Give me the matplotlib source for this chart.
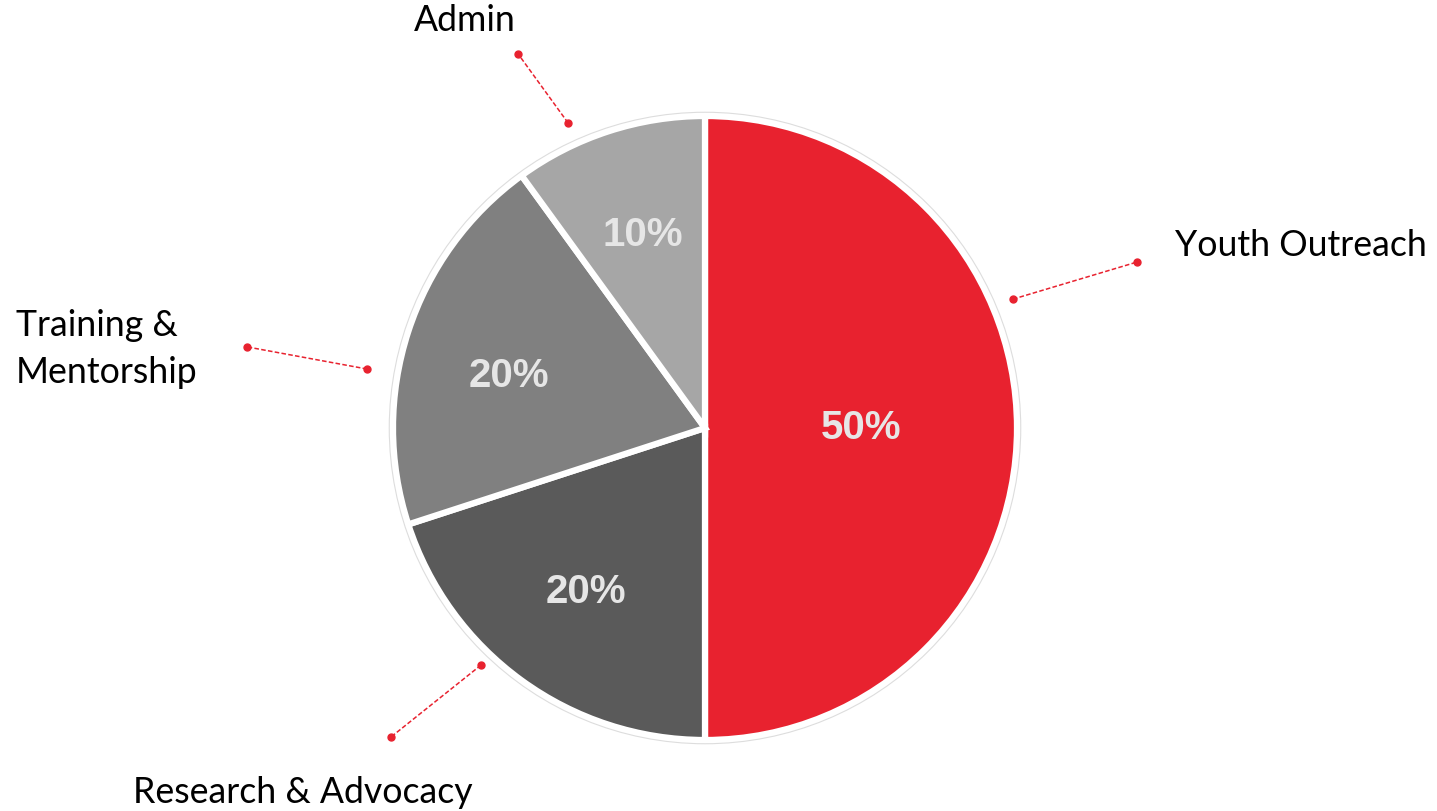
import numpy as np
import matplotlib.pyplot as plt

# Budget split
categories = ["Youth Outreach", "Research & Advocacy", "Training &\nMentorship", "Admin"]
shares = [50, 20, 20, 10]
colors = ["#E8222F", "#5A5A5A", "#808080", "#A6A6A6"]

# leader line ends (start on pie, end near label) and label anchors, in pie radius units
line_starts = [(0.987, 0.413), (-0.718, -0.760), (-1.083, 0.189), (-0.439, 0.978)]
line_ends = [(1.385, 0.532), (-1.006, -0.990), (-1.468, 0.260), (-0.599, 1.199)]
label_pos = [(1.508, 0.585), (-1.833, -1.167), (-2.208, 0.253), (-0.769, 1.305)]
label_ha = ["left", "left", "left", "center"]

fig = plt.figure(figsize=(14.37, 8.11), dpi=100)
ax = fig.add_axes([0, 0, 1, 1])

wedges, _, autotexts = ax.pie(
    shares, colors=colors, startangle=90, counterclock=False,
    autopct="%d%%", pctdistance=0.65,
    wedgeprops=dict(edgecolor="white", linewidth=4.5),
    textprops=dict(color="#E6E6E6", fontsize=29, fontweight="bold",
                   family="Liberation Sans"))

# the big slice has its label closer to the centre
w = wedges[0]
mid = np.deg2rad((w.theta1 + w.theta2) / 2)
autotexts[0].set_position((0.5 * np.cos(mid), 0.5 * np.sin(mid)))
# nudge the training label a little lower, as in the original
w = wedges[2]
mid = np.deg2rad((w.theta1 + w.theta2) / 2 + 3)
autotexts[2].set_position((0.65 * np.cos(mid), 0.65 * np.sin(mid)))

# faint outer rim
ax.add_patch(plt.Circle((0, 0), 1.012, fill=False, edgecolor="#DDDDDD", linewidth=0.8))

for (x0, y0), (x1, y1) in zip(line_starts, line_ends):
    ax.plot([x0, x1], [y0, y1], color="#E8222F", linestyle=(0, (3, 1.5)), linewidth=1.1)
    ax.plot([x0, x1], [y0, y1], "o", color="#E8222F", markersize=5)

for name, (x, y), ha in zip(categories, label_pos, label_ha):
    ax.text(x, y, name, ha=ha, va="center", fontsize=25.7, family="Lato",
            color="black", linespacing=1.5)

ax.set_xlim(-705 / 312, (1437 - 705) / 312)
ax.set_ylim((428 - 811) / 312, 428 / 312)
ax.set_aspect("equal")
ax.axis("off")

fig.savefig("out.png", dpi=100)
